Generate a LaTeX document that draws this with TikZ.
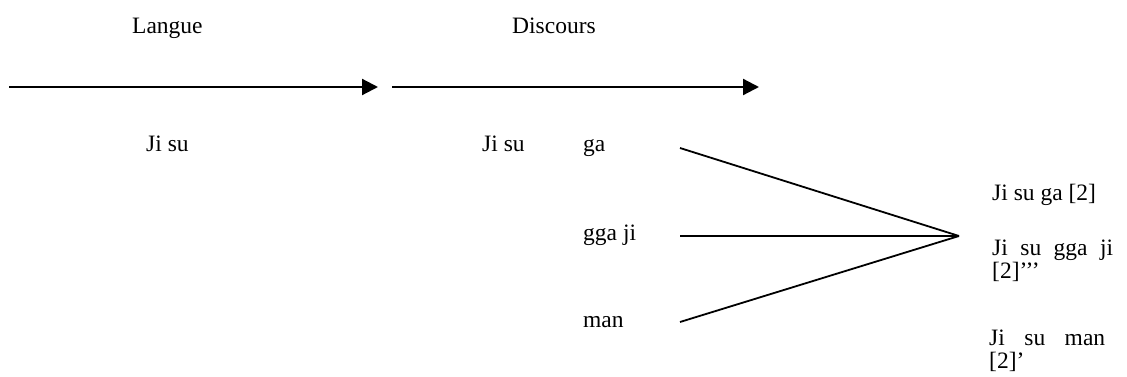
\documentclass[tikz,border=0pt]{standalone}
\usepackage{fontspec}
\setmainfont{Liberation Serif}
\usetikzlibrary{arrows.meta}

\tikzset{
  word/.style={anchor=base west, inner sep=0pt},
  stack/.style={anchor=north west, inner sep=0pt, align=left},
  axis/.style={line width=2.2pt, -{Triangle[length=16pt,width=16pt]}},
  branch/.style={line width=1.8pt}
}

\begin{document}
\begin{tikzpicture}[x=1pt, y=-1pt, font=\fontsize{23.5}{23}\selectfont]
  \useasboundingbox (0,0) rectangle (1127,377);

  % Coordinates
  \coordinate (langue-start) at (9, 87);
  \coordinate (langue-end) at (378, 87);
  \coordinate (discours-start) at (392, 87);
  \coordinate (discours-end) at (759, 87);
  \coordinate (ga-out) at (680, 148);
  \coordinate (ggaji-out) at (680, 236);
  \coordinate (man-out) at (680, 322);
  \coordinate (apex) at (959, 236);

  % Labels
  \node[word] (langue) at (132, 34) {Langue};
  \node[word] (discours) at (512, 34) {Discours};
  \node[word] (jisu-l) at (146, 151) {Ji su};
  \node[word] (jisu-d) at (482, 151) {Ji su};
  \node[word] (ga) at (583, 151) {ga};
  \node[word] (ggaji) at (583, 240) {gga ji};
  \node[word] (man) at (583, 327) {man};
  \node[word] (res-ga) at (992, 200) {Ji su ga [2]};
  \node[stack] (res-ggaji) at (992, 240) {\makebox[121pt][s]{Ji su gga ji}\\{}[2]’’’};
  \node[stack] (res-man) at (989, 330) {\makebox[116pt][s]{Ji su man}\\{}[2]’};

  % Drawing
  \draw[axis] (langue-start) -- (langue-end);
  \draw[axis] (discours-start) -- (discours-end);
  \draw[branch] (ga-out) -- (apex);
  \draw[branch] (ggaji-out) -- (apex);
  \draw[branch] (man-out) -- (apex);
\end{tikzpicture}
\end{document}
